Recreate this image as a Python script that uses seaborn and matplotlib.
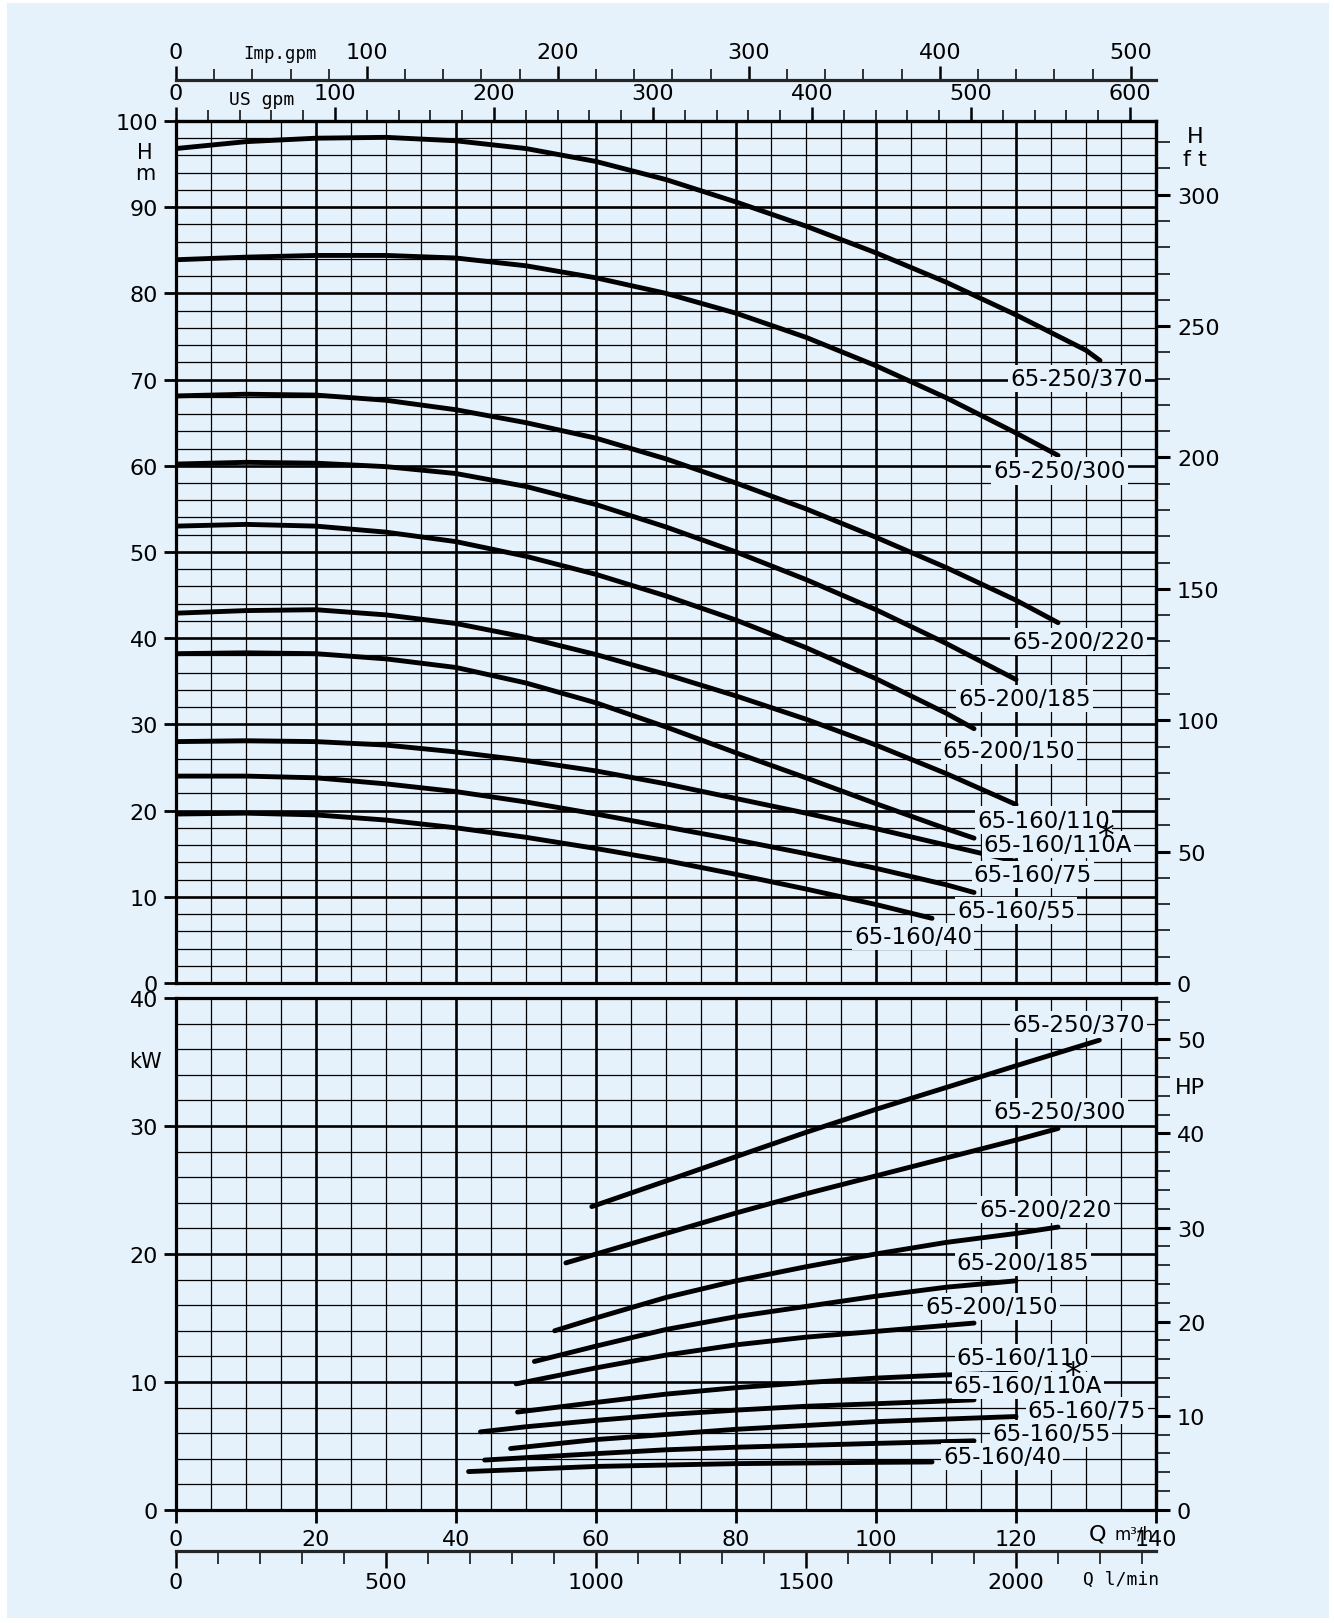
import matplotlib
matplotlib.use('Agg')
import pandas as pd
import matplotlib.pyplot as plt
import matplotlib.ticker as mticker
from matplotlib.patches import Rectangle
import seaborn as sns

BG = '#E5F1FB'

pumps = ['65-250/370', '65-250/300', '65-200/220', '65-200/185', '65-200/150',
         '65-160/110', '65-160/110A', '65-160/75', '65-160/55', '65-160/40']

# head curves: Q in m3/h, H in m
hq_370 = [0, 10, 20, 30, 40, 50, 60, 70, 80, 90, 100, 110, 120, 130, 132]
hh_370 = [96.8, 97.6, 98.0, 98.1, 97.7, 96.8, 95.3, 93.2, 90.6, 87.8, 84.7, 81.3, 77.5, 73.4, 72.2]
hq_300 = [0, 10, 20, 30, 40, 50, 60, 70, 80, 90, 100, 110, 120, 126]
hh_300 = [83.9, 84.2, 84.4, 84.4, 84.1, 83.2, 81.8, 80.0, 77.7, 74.9, 71.6, 67.9, 63.8, 61.2]
hq_220 = [0, 10, 20, 30, 40, 50, 60, 70, 80, 90, 100, 110, 120, 126]
hh_220 = [68.1, 68.3, 68.2, 67.6, 66.5, 65.0, 63.2, 60.8, 58.0, 55.0, 51.7, 48.2, 44.4, 41.8]
hq_185 = [0, 10, 20, 30, 40, 50, 60, 70, 80, 90, 100, 110, 120]
hh_185 = [60.2, 60.4, 60.3, 59.9, 59.1, 57.6, 55.5, 52.9, 50.0, 46.8, 43.3, 39.4, 35.2]
hq_150 = [0, 10, 20, 30, 40, 50, 60, 70, 80, 90, 100, 110, 114]
hh_150 = [53.0, 53.2, 53.0, 52.3, 51.2, 49.5, 47.4, 44.9, 42.1, 38.9, 35.3, 31.3, 29.5]
hq_110 = [0, 10, 20, 30, 40, 50, 60, 70, 80, 90, 100, 110, 120]
hh_110 = [42.9, 43.2, 43.3, 42.7, 41.7, 40.1, 38.1, 35.8, 33.3, 30.6, 27.6, 24.3, 20.7]
hq_110a = [0, 10, 20, 30, 40, 50, 60, 70, 80, 90, 100, 110, 114]
hh_110a = [38.2, 38.3, 38.2, 37.6, 36.6, 34.8, 32.5, 29.7, 26.7, 23.8, 20.8, 17.9, 16.8]
hq_75 = [0, 10, 20, 30, 40, 50, 60, 70, 80, 90, 100, 110, 120]
hh_75 = [28.0, 28.1, 28.0, 27.6, 26.8, 25.8, 24.6, 23.1, 21.4, 19.7, 17.9, 16.0, 14.1]
hq_55 = [0, 10, 20, 30, 40, 50, 60, 70, 80, 90, 100, 110, 114]
hh_55 = [24.0, 24.0, 23.8, 23.1, 22.2, 21.0, 19.6, 18.1, 16.6, 15.0, 13.3, 11.4, 10.5]
hq_40 = [0, 10, 20, 30, 40, 50, 60, 70, 80, 90, 100, 108]
hh_40 = [19.6, 19.7, 19.5, 18.9, 18.0, 16.9, 15.6, 14.2, 12.6, 10.9, 9.1, 7.5]

# power curves: Q in m3/h, P in kW
pq_370 = [59.4, 70, 80, 90, 100, 110, 120, 131.9]
pk_370 = [23.7, 25.7, 27.6, 29.5, 31.3, 33.0, 34.7, 36.7]
pq_300 = [55.7, 70, 80, 90, 100, 110, 120, 126]
pk_300 = [19.3, 21.6, 23.2, 24.7, 26.1, 27.5, 28.9, 29.8]
pq_220 = [54.1, 60, 70, 80, 90, 100, 110, 120, 126]
pk_220 = [14.0, 15.0, 16.6, 17.9, 19.0, 20.0, 20.9, 21.6, 22.1]
pq_185 = [51.2, 60, 70, 80, 90, 100, 110, 120]
pk_185 = [11.6, 12.8, 14.1, 15.1, 15.9, 16.7, 17.4, 17.9]
pq_150 = [48.6, 60, 70, 80, 90, 100, 114]
pk_150 = [9.85, 11.1, 12.1, 12.9, 13.5, 13.95, 14.6]
pq_110 = [48.8, 60, 70, 80, 90, 100, 110, 120]
pk_110 = [7.65, 8.4, 9.05, 9.55, 9.95, 10.3, 10.55, 10.7]
pq_110a = [43.5, 50, 60, 70, 80, 90, 100, 114]
pk_110a = [6.1, 6.5, 7.0, 7.45, 7.8, 8.1, 8.3, 8.6]
pq_75 = [47.8, 60, 70, 80, 90, 100, 110, 120]
pk_75 = [4.8, 5.5, 5.9, 6.3, 6.6, 6.9, 7.1, 7.3]
pq_55 = [44.1, 60, 70, 80, 90, 100, 114]
pk_55 = [3.9, 4.4, 4.7, 4.9, 5.05, 5.2, 5.4]
pq_40 = [41.8, 60, 80, 100, 108]
pk_40 = [3.0, 3.4, 3.62, 3.72, 3.75]

head_q = [hq_370, hq_300, hq_220, hq_185, hq_150, hq_110, hq_110a, hq_75, hq_55, hq_40]
head_h = [hh_370, hh_300, hh_220, hh_185, hh_150, hh_110, hh_110a, hh_75, hh_55, hh_40]
pow_q = [pq_370, pq_300, pq_220, pq_185, pq_150, pq_110, pq_110a, pq_75, pq_55, pq_40]
pow_k = [pk_370, pk_300, pk_220, pk_185, pk_150, pk_110, pk_110a, pk_75, pk_55, pk_40]

head = pd.concat([pd.DataFrame({'Q': q, 'H': h, 'pump': p})
                  for p, q, h in zip(pumps, head_q, head_h)])
power = pd.concat([pd.DataFrame({'Q': q, 'P': k, 'pump': p})
                   for p, q, k in zip(pumps, pow_q, pow_k)])

# label spots (layout only)
head_lab = [(128.6, 70.1), (126.2, 59.4), (128.9, 39.6), (121.2, 33.0), (119.0, 27.0),
            (123.9, 18.9), (126.0, 16.1), (122.4, 12.6), (120.0, 8.4), (105.3, 5.4)]
pow_lab = [(128.9, 37.95), (126.2, 31.1), (124.2, 23.5), (121.0, 19.3), (116.5, 15.9),
           (121.0, 11.9), (121.7, 9.7), (130.1, 7.8), (125.0, 6.0), (118.0, 4.2)]

sns.set_theme(style='white', rc={'axes.facecolor': BG, 'figure.facecolor': 'white'})
plt.rcParams['font.family'] = ['DejaVu Sans']
plt.rcParams['text.color'] = 'black'
plt.rcParams['xtick.color'] = 'black'
plt.rcParams['ytick.color'] = 'black'

fig = plt.figure(figsize=(13.34, 16.24), dpi=100)
fig.add_artist(Rectangle((7 / 1334, 5 / 1624), 1 - 12 / 1334, 1 - 9 / 1624,
                         transform=fig.transFigure, facecolor=BG, edgecolor='none', zorder=-10))

ax1 = fig.add_axes([0.1319, 0.3941, 0.7347, 0.5308])
ax2 = fig.add_axes([0.1319, 0.0696, 0.7347, 0.3153])

sns.lineplot(data=head, x='Q', y='H', units='pump', estimator=None, sort=False,
             color='black', lw=3.5, solid_capstyle='round', solid_joinstyle='round', ax=ax1)
sns.lineplot(data=power, x='Q', y='P', units='pump', estimator=None, sort=False,
             color='black', lw=3.5, solid_capstyle='round', solid_joinstyle='round', ax=ax2)


def setup_grid(ax, ytop, ymaj, ymin):
    ax.set_xlim(0, 140)
    ax.set_ylim(0, ytop)
    ax.xaxis.set_major_locator(mticker.MultipleLocator(20))
    ax.xaxis.set_minor_locator(mticker.MultipleLocator(5))
    ax.yaxis.set_major_locator(mticker.MultipleLocator(ymaj))
    ax.yaxis.set_minor_locator(mticker.MultipleLocator(ymin))
    ax.grid(which='major', color='black', lw=1.9)
    ax.grid(which='minor', color='black', lw=0.9)
    ax.set_axisbelow(True)
    ax.set_xlabel('')
    ax.set_ylabel('')
    for s in ax.spines.values():
        s.set_visible(True)
        s.set_color('black')
        s.set_linewidth(2.3)
    ax.tick_params(axis='y', which='major', length=9, width=2, direction='out',
                   labelsize=16, pad=4, left=True)
    ax.tick_params(axis='y', which='minor', length=0)


setup_grid(ax1, 100, 10, 2)
setup_grid(ax2, 40, 10, 2)
ax1.tick_params(axis='x', which='both', length=0, labelbottom=False)
ax2.tick_params(axis='x', which='major', length=9, width=2, direction='out',
                labelsize=16, pad=5, bottom=True)
ax2.tick_params(axis='x', which='minor', length=0)

# right axes: ft and HP
ft = ax1.secondary_yaxis('right', functions=(lambda m: m * 3.28084, lambda f: f / 3.28084))
hp = ax2.secondary_yaxis('right', functions=(lambda k: k / 0.7355, lambda h: h * 0.7355))
for sa, maj, mnr in [(ft, 50, 10), (hp, 10, 2)]:
    sa.yaxis.set_major_locator(mticker.MultipleLocator(maj))
    sa.yaxis.set_minor_locator(mticker.MultipleLocator(mnr))
    sa.tick_params(which='major', length=10, width=2.2, direction='out', labelsize=16, pad=5)
    sa.tick_params(which='minor', length=10, width=1.1, direction='out')
    sa.spines['right'].set_linewidth(2.3)

# top axes: US gpm and Imp gpm
us = ax1.secondary_xaxis('top', functions=(lambda q: q * 4.40287, lambda g: g / 4.40287))
imp = ax1.secondary_xaxis(1.0476, functions=(lambda q: q * 3.66615, lambda g: g / 3.66615))
for sa in (us, imp):
    sa.xaxis.set_major_locator(mticker.MultipleLocator(100))
    sa.xaxis.set_minor_locator(mticker.MultipleLocator(20))
    sa.tick_params(which='major', length=10, width=1.8, direction='out', labelsize=16, pad=3)
    sa.tick_params(which='minor', length=8, width=1.1, direction='out')
    sa.spines['top'].set_linewidth(2.3)

# bottom axis: l/min
lm = ax2.secondary_xaxis(-0.080, functions=(lambda q: q * 16.6667, lambda l: l / 16.6667))
lm.xaxis.set_major_locator(mticker.MultipleLocator(500))
lm.xaxis.set_minor_locator(mticker.MultipleLocator(100))
lm.tick_params(which='major', length=12, width=1.8, direction='out', labelsize=16, pad=3)
lm.tick_params(which='minor', length=9, width=1.1, direction='out')
lm.spines['bottom'].set_linewidth(2.3)

# curve labels
box = dict(facecolor=BG, edgecolor='none', pad=1.5)
for name, (x, y) in zip(pumps, head_lab):
    ax1.text(x, y, name, ha='center', va='center', fontsize=16.5, bbox=box, zorder=4)
for name, (x, y) in zip(pumps, pow_lab):
    ax2.text(x, y, name, ha='center', va='center', fontsize=16.5, bbox=box, zorder=4)
ax1.text(132.8, 17.0, '*', ha='center', va='center', fontsize=24, zorder=5)
ax2.text(128.0, 10.5, '*', ha='center', va='center', fontsize=24, zorder=5)

# axis unit texts
ax1.text(-0.0316, 0.964, 'H', transform=ax1.transAxes, ha='center', va='center', fontsize=15)
ax1.text(-0.0316, 0.940, 'm', transform=ax1.transAxes, ha='center', va='center', fontsize=15)
ax2.text(-0.0316, 0.877, 'kW', transform=ax2.transAxes, ha='center', va='center', fontsize=15)
ax1.text(1.040, 0.9826, 'H', transform=ax1.transAxes, ha='center', va='center', fontsize=16)
ax1.text(1.040, 0.956, 'f t', transform=ax1.transAxes, ha='center', va='center', fontsize=16)
ax2.text(1.035, 0.826, 'HP', transform=ax2.transAxes, ha='center', va='center', fontsize=16)
ax1.text(0.106, 1.079, 'Imp.gpm', transform=ax1.transAxes, ha='center', va='center',
         fontsize=12.5, fontfamily='DejaVu Sans Mono')
ax1.text(0.087, 1.026, 'US gpm', transform=ax1.transAxes, ha='center', va='center',
         fontsize=13, fontfamily='DejaVu Sans Mono')
ax2.text(0.94, -0.046, 'Q', transform=ax2.transAxes, ha='center', va='center', fontsize=16)
ax2.text(0.978, -0.046, 'm³/h', transform=ax2.transAxes, ha='center', va='center', fontsize=12)
ax2.text(0.964, -0.135, 'Q l/min', transform=ax2.transAxes, ha='center', va='center',
         fontsize=13, fontfamily='DejaVu Sans Mono')

fig.savefig('out.png', dpi=100)
